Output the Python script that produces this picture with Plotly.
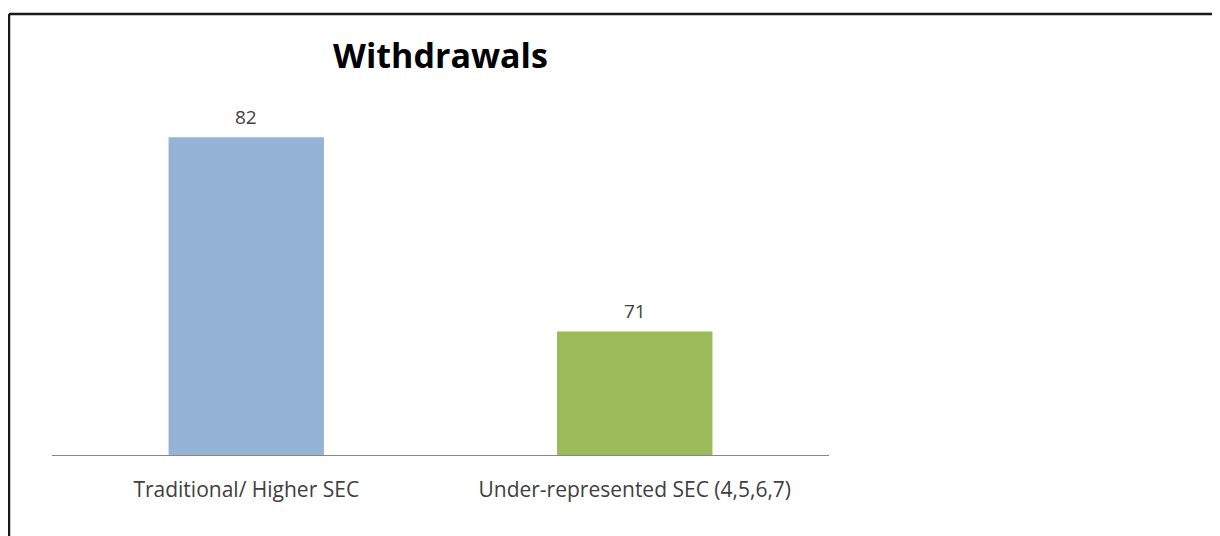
import plotly.graph_objects as go

categories = ["Traditional/ Higher SEC", "Under-represented SEC (4,5,6,7)"]
values = [82, 71]
colors = ["#95B3D7", "#9BBB59"]
title_text = "Withdrawals"

# page renders the figure with an 8px body offset; plot area target (page): x 52..829, y 102..455
OFF = 8
W, H = 1220, 536
L, R, T, B = 52 - OFF, W - (829 - OFF), 102 - OFF, H - (455 - OFF)
PW, PH = W - L - R, H - T - B

fig = go.Figure()
fig.add_trace(go.Bar(
    x=categories,
    y=values,
    marker=dict(color=colors, line=dict(width=0)),
    width=0.4,
    hoverinfo="x+y",
))

for c, v in zip(categories, values):
    fig.add_annotation(
        x=c, y=v, xref="x", yref="y",
        text=str(v), showarrow=False,
        yanchor="bottom", yshift=5,
        font=dict(family="Open Sans", size=19, color="#404040"),
    )

fig.update_layout(
    width=W,
    height=H,
    margin=dict(l=L, r=R, t=T, b=B),
    paper_bgcolor="white",
    plot_bgcolor="white",
    showlegend=False,
    title=dict(
        text="<b>" + title_text + "</b>",
        x=(L + PW / 2) / W,
        xanchor="center",
        y=1 - 48 / H,
        yanchor="middle",
        font=dict(family="Open Sans", size=34, color="black"),
    ),
    xaxis=dict(
        showline=True,
        linecolor="#878787",
        linewidth=1,
        ticks="",
        tickfont=dict(family="Open Sans", size=21, color="#404040"),
        showgrid=False,
        ticklabelstandoff=16,
    ),
    yaxis=dict(
        range=[64, 84],
        visible=False,
        showgrid=False,
        zeroline=False,
    ),
)

# figure border (left and top edges)
bx = (1 - L) / PW
by = (H - T - 1) / PH
fig.add_shape(type="line", xref="paper", yref="paper",
              x0=bx, x1=bx, y0=-B / PH - 0.05, y1=by,
              line=dict(color="#1a1a1a", width=2.5))
fig.add_shape(type="line", xref="paper", yref="paper",
              x0=bx, x1=(W - L + 5) / PW, y0=by, y1=by,
              line=dict(color="#1a1a1a", width=2.5))

fig.write_html("out.html")
